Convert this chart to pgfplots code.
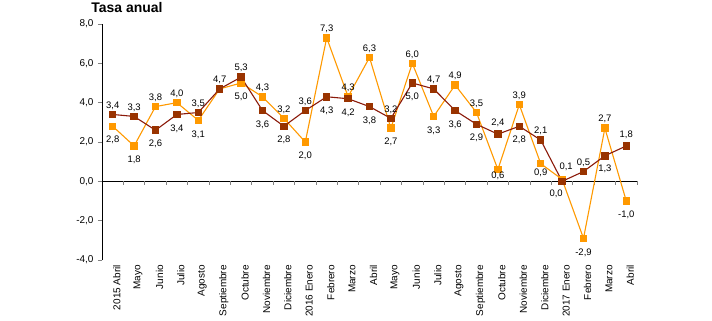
\documentclass[border=0pt]{standalone}
\usepackage{pgfplots}
\usepackage{pgfplotstable}
\pgfplotsset{compat=1.18}
\usepackage{fontspec}
\setmainfont{Liberation Sans}
\definecolor{brownc}{HTML}{993300}
\definecolor{brownl}{HTML}{8B1A0A}
\definecolor{orangec}{HTML}{FF9900}

% x  y  dx dy s   (label offset in bp, s=1 show label)
\pgfplotstableread{
x y dx dy s
0 3.4 0 9 1
1 3.3 0 9 1
2 2.6 0 -14 1
3 3.4 0 -14 1
4 3.5 0 9 1
5 4.7 0 9 1
6 5.3 0 9 1
7 3.6 0 -14 1
8 2.8 0 -14 1
9 3.6 0 9 1
10 4.3 0 -14 1
11 4.2 0 -14 1
12 3.8 0 -14 1
13 3.2 0 9 1
14 5.0 0 -14 1
15 4.7 0 9 1
16 3.6 0 -14 1
17 2.9 0 -14 1
18 2.4 0 11 1
19 2.8 0 -14 1
20 2.1 0 9 1
21 0.0 -6 -12 1
22 0.5 0 9 1
23 1.3 0 -13 1
24 1.8 0 11 1
}\brown

\pgfplotstableread{
x y dx dy s
0 2.8 0 -14 1
1 1.8 0 -14 1
2 3.8 0 9 1
3 4.0 0 9 1
4 3.1 0 -14 1
5 4.7 0 9 0
6 5.0 0 -14 1
7 4.3 0 9 1
8 3.2 0 9 1
9 2.0 0 -14 1
10 7.3 0 9 1
11 4.3 0 9 1
12 6.3 0 9 1
13 2.7 0 -14 1
14 6.0 0 9 1
15 3.3 0 -14 1
16 4.9 0 9 1
17 3.5 0 9 1
18 0.6 0 -6 1
19 3.9 0 9 1
20 0.9 0 -9 1
21 0.1 4 13 1
22 -2.9 0 -14 1
23 2.7 0 9 1
24 -1.0 0 -14 1
}\orange

\begin{document}
\begin{tikzpicture}
\useasboundingbox (-102bp,-61bp) rectangle (610bp,260bp);
\node[font=\bfseries\fontsize{14}{16}\selectfont] at (25bp,252bp) {Tasa anual};
\begin{axis}[
  at={(0,0)}, anchor=south west,
  width=535bp, height=236bp, scale only axis,
  xmin=-0.5, xmax=24.5, ymin=-4, ymax=8,
  ytick={-4,-2,...,8},
  xtick={0,...,24},
  xticklabels={2015 Abril, Mayo, Junio, Julio, Agosto, Septiembre, Octubre, Noviembre, Diciembre, 2016 Enero, Febrero, Marzo, Abril, Mayo, Junio, Julio, Agosto, Septiembre, Octubre, Noviembre, Diciembre, 2017 Enero, Febrero, Marzo, Abril},
  axis x line=bottom, axis y line=left,
  axis line style={-, black, line width=1bp},
  x axis line style={draw=none},
  xtick style={draw=none},
  ytick style={gray, line width=0.8bp},
  tick align=outside,
  major tick length=4bp,
  yticklabel style={font=\fontsize{10}{12}\selectfont, xshift=-1bp},
  xticklabel style={font=\fontsize{10}{12}\selectfont, rotate=90, anchor=east, inner sep=1bp, yshift=-4bp},
  clip=false,
  /pgf/number format/use comma,
  /pgf/number format/fixed,
  /pgf/number format/fixed zerofill,
  /pgf/number format/precision=1,
  /pgf/number format/assume math mode=true,
]
\draw[black, line width=1bp] (axis cs:-0.5,0) -- (axis cs:24.5,0);
\pgfplotsinvokeforeach{0.5,1.5,...,24.5}{\draw[gray, line width=0.8bp] (axis cs:#1,0) -- ++(0bp,-4bp);}

\addplot[orangec, line width=1.1bp, mark=square*, mark size=3.2bp,
  mark options={fill=orangec, draw=orangec}] table[x=x, y=y] {\orange};
\addplot[brownl, line width=1.1bp, mark=square*, mark size=3.2bp,
  mark options={fill=brownc, draw=brownc}] table[x=x, y=y] {\brown};

\addplot[draw=none, mark=none,
  visualization depends on={\thisrow{dx} \as \ldx},
  visualization depends on={\thisrow{dy} \as \ldy},
  visualization depends on={\thisrow{s} \as \lshow},
  nodes near coords={\ifdim\lshow pt>0.5pt\pgfmathprintnumber{\pgfplotspointmeta}\fi},
  every node near coord/.append style={anchor=center, inner sep=0pt, black,
     font=\fontsize{9.5}{11}\selectfont, xshift=\ldx bp, yshift=\ldy bp}]
  table[x=x, y=y] {\orange};
\addplot[draw=none, mark=none,
  visualization depends on={\thisrow{dx} \as \ldx},
  visualization depends on={\thisrow{dy} \as \ldy},
  visualization depends on={\thisrow{s} \as \lshow},
  nodes near coords={\ifdim\lshow pt>0.5pt\pgfmathprintnumber{\pgfplotspointmeta}\fi},
  every node near coord/.append style={anchor=center, inner sep=0pt, black,
     font=\fontsize{9.5}{11}\selectfont, xshift=\ldx bp, yshift=\ldy bp}]
  table[x=x, y=y] {\brown};
\end{axis}
\end{tikzpicture}
\end{document}
